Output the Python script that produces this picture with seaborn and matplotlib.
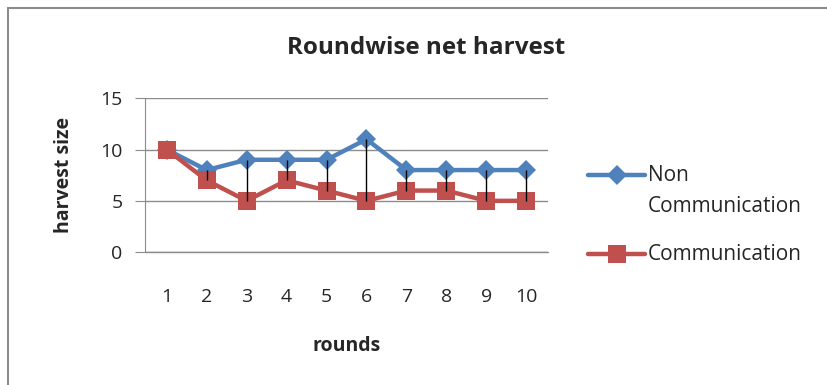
import pandas as pd
import matplotlib
matplotlib.use("Agg")
import matplotlib.pyplot as plt
import seaborn as sns
from matplotlib.patches import Rectangle
from matplotlib.lines import Line2D

# data
rounds = [1, 2, 3, 4, 5, 6, 7, 8, 9, 10]
non_communication = [10, 8, 9, 9, 9, 11, 8, 8, 8, 8]
communication = [10, 7, 5, 7, 6, 5, 6, 6, 5, 5]
series_names = ["Non\nCommunication", "Communication"]
y_ticks = [0, 5, 10, 15]

df = pd.DataFrame({
    "round": rounds * 2,
    "harvest": non_communication + communication,
    "group": [series_names[0]] * len(rounds) + [series_names[1]] * len(rounds),
})

sns.set_style("white")
plt.rcParams["font.family"] = ["Open Sans", "DejaVu Sans"]

blue = "#4F81BD"
red = "#C0504D"
grid_col = "#8c8c8c"

fig = plt.figure(figsize=(8.27, 3.85), dpi=100)
ax = fig.add_axes([0.175, 0.345, 0.488, 0.40])

palette = {series_names[0]: blue, series_names[1]: red}
sns.lineplot(data=df, x="round", y="harvest", hue="group", style="group",
             markers={series_names[0]: "D", series_names[1]: "s"},
             dashes=False, palette=palette, linewidth=3.2,
             markersize=10, markeredgewidth=0, legend=False, ax=ax)
for line in ax.get_lines():
    if line.get_marker() == "s":
        line.set_markersize(13)

# high-low lines between the two series
ax.vlines(rounds, communication, non_communication, color="black", linewidth=1, zorder=5)

ax.set_xlim(0.45, 10.55)
ax.set_ylim(0, 15)
ax.set_yticks(y_ticks)
ax.set_xticks(rounds)
ax.yaxis.grid(True, color=grid_col, linewidth=1)
ax.axhline(0, color=grid_col, linewidth=1, clip_on=False, zorder=0)
ax.set_axisbelow(True)
for side in ["top", "right", "bottom"]:
    ax.spines[side].set_visible(False)
ax.spines["left"].set_color(grid_col)
ax.tick_params(axis="y", left=True, length=7, color=grid_col, labelsize=14, pad=9)
ax.tick_params(axis="x", bottom=False, labelsize=14, pad=22)

ax.set_xlabel("rounds", fontsize=14, fontweight="bold", labelpad=22)
ax.set_ylabel("harvest size", fontsize=14, fontweight="bold", labelpad=19)
fig.text(0.515, 0.875, "Roundwise net harvest", fontsize=17.5, fontweight="bold",
         ha="center", va="center")

# legend drawn by hand so the handle sits on the first text line
leg_x0, leg_x1 = 588 / 827, 645 / 827
leg_mid = (leg_x0 + leg_x1) / 2
for y_px, col, mk, ms, label in [(175, blue, "D", 10, "Non"),
                                  (254, red, "s", 13, "Communication")]:
    yf = 1 - y_px / 385
    fig.add_artist(Line2D([leg_x0, leg_x1], [yf, yf], color=col, linewidth=3.2,
                          transform=fig.transFigure))
    fig.add_artist(Line2D([leg_mid], [yf], color=col, marker=mk, markersize=ms,
                          markeredgewidth=0, transform=fig.transFigure))
    fig.text(648 / 827, yf, label, fontsize=15, va="center", ha="left")
fig.text(648 / 827, 1 - 207 / 385, "Communication", fontsize=15, va="center", ha="left")

# outer chart frame
fig.patches.append(Rectangle((8 / 827, -0.1), 1.2, 1.1 - 8 / 385,
                             transform=fig.transFigure, fill=False,
                             edgecolor=grid_col, linewidth=1.5))

fig.savefig("out.png", dpi=100)
